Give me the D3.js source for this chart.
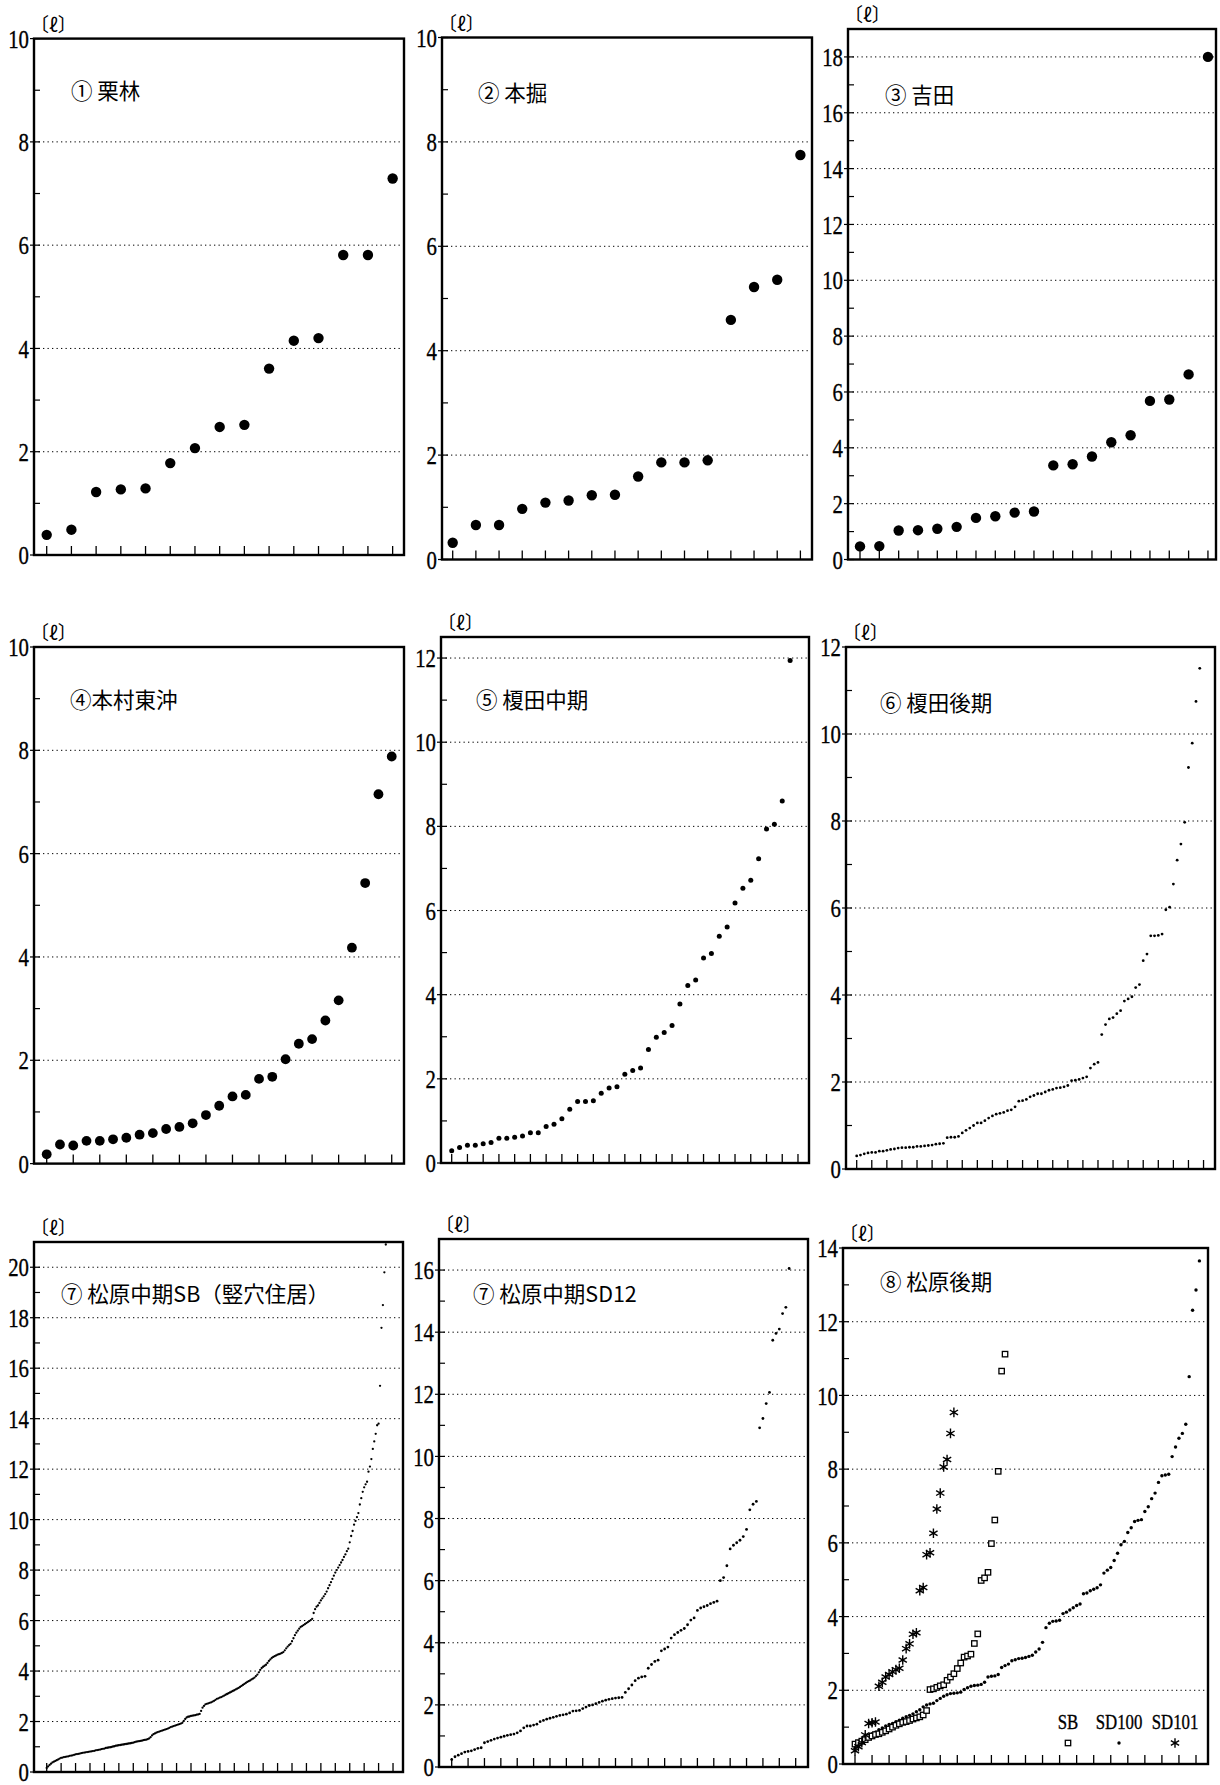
<!DOCTYPE html>
<html lang="ja">

<head>
  <meta charset="UTF-8">
  <title>容量分布</title>
  <style>
    html,
    body {
      margin: 0;
      background: #fff;
    }

    svg {
      display: block;
    }
  </style>
  <script src="https://cdn.jsdelivr.net/npm/d3@7"></script>
</head>

<body>
  <script>
    const width = 1220
    const height = 1785

    // 各遺跡の容量 [ℓ]（小さい順）
    const kuribayashi = [0.39, 0.49, 1.22, 1.27, 1.29, 1.78, 2.07, 2.48, 2.52, 3.61, 4.15, 4.2, 5.81, 5.81, 7.29]
    const hongori = [0.32, 0.66, 0.66, 0.97, 1.09, 1.13, 1.23, 1.24, 1.59, 1.86, 1.86, 1.9, 4.59, 5.22, 5.36, 7.75]
    const yoshida = [0.47, 0.48, 1.04, 1.05, 1.1, 1.17, 1.49, 1.55, 1.68, 1.72, 3.37, 3.41, 3.69, 4.2, 4.45, 5.68,
      5.73, 6.63, 18.0]
    const honmuraHigashioki = [0.18, 0.37, 0.35, 0.44, 0.44, 0.47, 0.5, 0.56, 0.59, 0.67, 0.71, 0.78, 0.94, 1.12,
      1.3, 1.33, 1.64, 1.68, 2.02, 2.32, 2.41, 2.77, 3.16, 4.18, 5.43, 7.15, 7.88]
    const enokidaMid = [0.29, 0.37, 0.42, 0.42, 0.46, 0.49, 0.59, 0.59, 0.61, 0.64, 0.72, 0.72, 0.87, 0.92, 1.05,
      1.28, 1.46, 1.46, 1.48, 1.66, 1.78, 1.81, 2.11, 2.2, 2.26, 2.7, 2.99, 3.1, 3.27, 3.78, 4.22, 4.35, 4.87,
      4.98, 5.39, 5.61, 6.18, 6.53, 6.72, 7.23, 7.94, 8.05, 8.6, 11.94]
    const enokidaLate = [0.3, 0.32, 0.35, 0.37, 0.38, 0.38, 0.41, 0.41, 0.43, 0.45, 0.46, 0.48, 0.49, 0.49, 0.5,
      0.5, 0.52, 0.52, 0.53, 0.54, 0.55, 0.57, 0.58, 0.59, 0.72, 0.73, 0.73, 0.75, 0.83, 0.89, 0.94, 1.0, 1.06,
      1.06, 1.11, 1.17, 1.22, 1.26, 1.28, 1.3, 1.34, 1.36, 1.43, 1.56, 1.57, 1.6, 1.66, 1.69, 1.73, 1.73, 1.77,
      1.81, 1.83, 1.86, 1.87, 1.89, 1.92, 2.03, 2.04, 2.06, 2.09, 2.12, 2.32, 2.41, 2.45, 3.09, 3.32, 3.45, 3.48,
      3.57, 3.64, 3.86, 3.91, 3.96, 4.17, 4.24, 4.79, 4.94, 5.36, 5.36, 5.37, 5.4, 5.96, 6.02, 6.55, 7.1, 7.47,
      7.97, 9.23, 9.79, 10.75, 11.51]
    const matsubaraSB = [0.16, 0.22, 0.28, 0.33, 0.38, 0.41, 0.44, 0.47, 0.5, 0.53, 0.56,
      0.57, 0.59, 0.6, 0.61, 0.62, 0.64, 0.65, 0.66, 0.68, 0.7,
      0.71, 0.72, 0.73, 0.75, 0.76, 0.77, 0.78, 0.79, 0.8, 0.81, 0.82, 0.83, 0.84, 0.86, 0.87,
      0.88, 0.89, 0.91, 0.92, 0.93, 0.95, 0.96, 0.97, 0.98, 0.99, 1.01, 1.02, 1.04,
      1.05, 1.06, 1.07, 1.08, 1.09, 1.1, 1.11, 1.12, 1.13, 1.14, 1.15, 1.16, 1.18, 1.2,
      1.21, 1.22, 1.23, 1.24, 1.26, 1.27, 1.28, 1.3, 1.33, 1.38,
      1.45, 1.5, 1.53, 1.56, 1.58, 1.6, 1.62, 1.64, 1.66, 1.68, 1.7,
      1.72, 1.75, 1.78, 1.8, 1.82, 1.84, 1.86, 1.88, 1.9, 1.92, 1.95,
      2.02, 2.1, 2.16, 2.19, 2.2, 2.22,
      2.23, 2.24, 2.25, 2.27, 2.28, 2.3,
      2.42, 2.55, 2.62, 2.68,
      2.7, 2.72, 2.74, 2.76, 2.79, 2.82, 2.86, 2.9,
      2.92, 2.95, 2.97, 3.0, 3.03, 3.06, 3.09, 3.12, 3.15,
      3.18, 3.21, 3.24, 3.27, 3.3, 3.33, 3.37, 3.41, 3.45,
      3.49, 3.53, 3.57, 3.6, 3.63, 3.67, 3.7, 3.74, 3.8,
      3.86, 3.95, 4.05, 4.12, 4.17, 4.21, 4.25,
      4.32, 4.4, 4.46, 4.52, 4.56, 4.59, 4.62, 4.65,
      4.67, 4.69, 4.72, 4.75,
      4.82, 4.9, 4.97, 5.03, 5.08,
      5.18, 5.3, 5.42, 5.52, 5.6, 5.68, 5.75,
      5.78, 5.82, 5.86, 5.9, 5.94, 5.98, 6.02, 6.07,
      6.3, 6.45, 6.55, 6.6,
      6.7, 6.8, 6.88, 6.96, 7.05, 7.15, 7.28, 7.4,
      7.52, 7.65, 7.78, 7.9, 8.0, 8.1, 8.2,
      8.3, 8.4, 8.52, 8.62, 8.75, 8.85,
      9.1, 9.35, 9.55, 9.8, 9.95, 10.1, 10.26,
      10.6, 10.85, 11.1, 11.28, 11.4, 11.5,
      11.9, 12.1, 12.4, 12.8, 13.1, 13.4, 13.74,
      13.8, 15.3, 17.6, 18.5, 19.8, 20.9]
    const matsubaraSD12 = [0.24, 0.33, 0.38, 0.43, 0.48, 0.5, 0.52, 0.56, 0.6, 0.62, 0.78, 0.82, 0.86, 0.9, 0.93,
      0.96, 0.99, 1.02, 1.04, 1.06, 1.1, 1.16, 1.26, 1.32, 1.32, 1.35, 1.38, 1.46, 1.5, 1.54, 1.57, 1.6, 1.63,
      1.66, 1.68, 1.7, 1.74, 1.8, 1.81, 1.82, 1.88, 1.93, 1.98, 2.0, 2.04, 2.08, 2.12, 2.15, 2.18, 2.2, 2.22,
      2.23, 2.24, 2.4, 2.52, 2.64, 2.78, 2.86, 2.9, 2.92, 3.18, 3.3, 3.4, 3.44, 3.74, 3.8, 3.86, 4.15, 4.26,
      4.33, 4.4, 4.46, 4.58, 4.73, 4.8, 5.04, 5.12, 5.16, 5.2, 5.26, 5.3, 5.34, 6.0, 6.1, 6.48, 7.02, 7.14, 7.22,
      7.3, 7.42, 7.65, 8.28, 8.46, 8.55, 10.92, 11.22, 11.7, 12.06, 13.74, 13.96, 14.1, 14.6, 14.8, 16.05]
    // ⑧ 松原後期：SB / SD100 / SD101
    const lateSB = [0.54, 0.58, 0.62, 0.66, 0.72, 0.76, 0.8, 0.82, 0.86, 0.9, 0.95, 1.0, 1.05, 1.09, 1.13, 1.15,
      1.18, 1.22, 1.25, 1.28, 1.33, 1.45, 2.02, 2.04, 2.08, 2.12, 2.15, 2.27, 2.36, 2.45, 2.59, 2.74, 2.9, 2.93,
      2.98, 3.27, 3.53, 4.98, 5.05, 5.2, 5.98, 6.62, 7.94, 10.66, 11.12]
    const lateSD100 = [0.43, 0.55, 0.63, 0.72, 0.78, 0.82, 0.86, 0.93, 0.98, 1.03, 1.07, 1.1, 1.15, 1.19, 1.24,
      1.28, 1.32, 1.36, 1.42, 1.47, 1.55, 1.6, 1.63, 1.65, 1.72, 1.78, 1.84, 1.88, 1.91, 1.92, 1.93, 1.95, 2.02,
      2.07, 2.11, 2.13, 2.14, 2.16, 2.22, 2.36, 2.38, 2.39, 2.43, 2.62, 2.67, 2.71, 2.8, 2.83, 2.86, 2.87, 2.89,
      2.92, 2.95, 3.04, 3.12, 3.3, 3.7, 3.82, 3.87, 3.88, 3.9, 4.08, 4.12, 4.18, 4.24, 4.3, 4.34, 4.62, 4.64,
      4.7, 4.74, 4.78, 4.86, 5.18, 5.26, 5.33, 5.52, 5.72, 5.95, 6.04, 6.28, 6.41, 6.58, 6.61, 6.63, 6.85, 6.98,
      7.2, 7.35, 7.64, 7.82, 7.84, 7.86, 8.34, 8.6, 8.84, 8.97, 9.22, 10.51, 12.31, 12.86, 13.65]
    const lateSD101 = [0.36, 0.47, 0.58, 0.79, 1.1, 1.12, 1.14, 2.11, 2.22, 2.36, 2.43, 2.5, 2.56, 2.6, 2.82,
      3.13, 3.26, 3.52, 3.56, 4.7, 4.79, 5.68, 5.73, 6.26, 6.92, 7.35, 8.06, 8.26, 8.97, 9.54]

    const titles = ['① 栗林', '② 本掘', '③ 吉田', '④本村東沖', '⑤ 榎田中期', '⑥ 榎田後期',
      '⑦ 松原中期SB（竪穴住居）', '⑦ 松原中期SD12', '⑧ 松原後期']
    const legendLabels = ['SB', 'SD100', 'SD101']

    const serif = "'Liberation Serif', 'DejaVu Serif', serif"
    const gothic = "'Noto Sans CJK JP', 'Noto Sans', sans-serif"

    const svg = d3.select('body').append('svg')
      .attr('width', width)
      .attr('height', height)

    // 各パネルの枠・目盛り
    const panels = [
      { box: [34, 38.6, 404, 555], yMax: 10, x0: 46.7, dx: 24.71, tick: 1, tickMax: 14, title: [71, 99],
        series: [{ values: kuribayashi, shape: 'dot', r: 5.2 }] },
      { box: [442, 37.5, 812, 559.5], yMax: 10, x0: 452.7, dx: 23.18, tick: 1, tickMax: 15, title: [478, 101],
        series: [{ values: hongori, shape: 'dot', r: 5.2 }] },
      { box: [848, 29, 1216, 559.5], yMax: 19, x0: 860, dx: 19.33, tick: 1, tickMax: 18, title: [885, 103],
        series: [{ values: yoshida, shape: 'dot', r: 5.2 }] },
      { box: [34, 647, 404, 1163.6], yMax: 10, x0: 46.7, dx: 13.27, tick: 2, tickMax: 26, title: [70, 708],
        series: [{ values: honmuraHigashioki, shape: 'dot', r: 4.9 }] },
      { box: [441, 637, 809, 1163], yMax: 12.5, x0: 451.7, dx: 7.87, tick: 2, tickMax: 44, title: [476, 708],
        series: [{ values: enokidaMid, shape: 'dot', r: 2.5 }] },
      { box: [846, 647, 1215, 1169], yMax: 12, x0: 856.7, dx: 3.77, tick: 4, tickMax: 92, title: [880, 711],
        series: [{ values: enokidaLate, shape: 'dot', r: 1.4 }] },
      { box: [34, 1242, 403, 1772], yMax: 21, x0: 46.7, dx: 1.443, tick: 10, tickMax: 240, title: [61, 1302],
        series: [{ values: matsubaraSB, shape: 'dot', r: 1.15 }] },
      { box: [439, 1239, 808, 1767], yMax: 17, x0: 451.7, dx: 3.276, tick: 5, tickMax: 105, title: [473, 1302],
        series: [{ values: matsubaraSD12, shape: 'dot', r: 1.4 }] },
      { box: [843, 1248, 1208, 1764], yMax: 14, x0: 855, dx: 3.41, tick: 5, tickMax: 100, title: [880, 1290],
        series: [
          { values: lateSD100, shape: 'dot', r: 1.7 },
          { values: lateSB, shape: 'square', r: 5.4 },
          { values: lateSD101, shape: 'star', r: 8 }
        ],
        legend: [
          { shape: 'square', r: 5.4, x: 1068 },
          { shape: 'dot', r: 1.7, x: 1119 },
          { shape: 'star', r: 8, x: 1175 }
        ] }
    ]

    // 記号を描く
    function drawMark(g, shape, r, cx, cy) {
      if (shape === 'dot') {
        g.append('circle').attr('cx', cx).attr('cy', cy).attr('r', r).attr('fill', '#000')
      } else if (shape === 'square') {
        g.append('rect')
          .attr('x', cx - r / 2).attr('y', cy - r / 2)
          .attr('width', r).attr('height', r)
          .attr('fill', '#fff').attr('stroke', '#000').attr('stroke-width', 1.3)
      } else {
        g.append('path')
          .attr('d', d3.symbol(d3.symbolAsterisk, r * r)())
          .attr('transform', `translate(${cx},${cy})`)
          .attr('fill', 'none').attr('stroke', '#000').attr('stroke-width', 1.4)
      }
    }

    // 細長い明朝風の数字
    function condensedText(g, str, x, y, anchor, size, sx) {
      g.append('text')
        .attr('font-family', serif)
        .attr('font-size', size)
        .attr('fill', '#000')
        .attr('stroke', '#000')
        .attr('stroke-width', 0.35)
        .attr('text-anchor', anchor)
        .attr('dy', '0.35em')
        .attr('transform', `translate(${x},${y}) scale(${sx},1)`)
        .text(str)
    }

    panels.forEach((p, k) => {
      const [left, top, right, bottom] = p.box
      const g = svg.append('g')

      const y = d3.scaleLinear().domain([0, p.yMax]).range([bottom, top])
      const x = d3.scaleLinear().domain([0, 1]).range([p.x0, p.x0 + p.dx])

      const majors = d3.range(0, p.yMax + 0.01, 2)

      // 点線の目盛り線
      g.selectAll('.grid')
        .data(majors.filter(v => v > 0 && y(v) > top + 4))
        .enter()
        .append('line')
        .attr('x1', left).attr('x2', right)
        .attr('y1', d => y(d)).attr('y2', d => y(d))
        .attr('stroke', '#000')
        .attr('stroke-width', 1)
        .attr('stroke-dasharray', '1.3,3.2')

      // 補助目盛り
      g.selectAll('.minor')
        .data(d3.range(1, p.yMax, 2))
        .enter()
        .append('line')
        .attr('x1', left).attr('x2', left + 6)
        .attr('y1', d => y(d)).attr('y2', d => y(d))
        .attr('stroke', '#000').attr('stroke-width', 1.2)

      g.selectAll('.major')
        .data(majors)
        .enter()
        .append('line')
        .attr('x1', left - 4).attr('x2', left + 6)
        .attr('y1', d => y(d)).attr('y2', d => y(d))
        .attr('stroke', '#000').attr('stroke-width', 1.2)

      majors.forEach(v => condensedText(g, v, left - 5, y(v), 'end', 26, 0.8))

      // 下の目盛り
      g.selectAll('.xtick')
        .data(d3.range(0, p.tickMax + 0.5, p.tick))
        .enter()
        .append('line')
        .attr('x1', d => x(d)).attr('x2', d => x(d))
        .attr('y1', bottom).attr('y2', bottom - 9)
        .attr('stroke', '#000').attr('stroke-width', 1.3)

      // 枠
      g.append('rect')
        .attr('x', left).attr('y', top)
        .attr('width', right - left).attr('height', bottom - top)
        .attr('fill', 'none')
        .attr('stroke', '#000')
        .attr('stroke-width', 2.4)

      // 単位
      g.append('text')
        .attr('font-family', gothic)
        .attr('font-size', 19)
        .attr('x', left - 4)
        .attr('y', top - 7)
        .text('〔ℓ〕')

      // 題名
      g.append('text')
        .attr('font-family', gothic)
        .attr('font-size', 21.5)
        .attr('x', p.title[0])
        .attr('y', p.title[1])
        .text(titles[k])

      // データ点
      p.series.forEach(s => {
        s.values.forEach((v, i) => drawMark(g, s.shape, s.r, x(i), y(v)))
      })

      // 凡例
      if (p.legend) {
        p.legend.forEach((l, i) => {
          condensedText(g, legendLabels[i], l.x, 1722, 'middle', 21, 0.8)
          drawMark(g, l.shape, l.r, l.x, 1743)
        })
      }
    })
  </script>
</body>

</html>
